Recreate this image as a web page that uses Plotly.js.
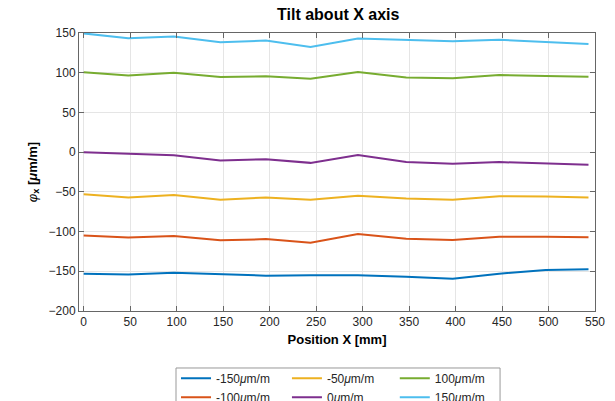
<!DOCTYPE html>
<html>
<head>
<meta charset="utf-8">
<script src="https://cdn.plot.ly/plotly-3.0.1.min.js"></script>
<style>html,body{margin:0;padding:0;background:#fff;}#chart{width:615px;height:401px;}</style>
</head>
<body>
<div id="chart"></div>
<script>
const positionX = [0, 48, 97, 147, 196, 244, 295, 347, 397, 447, 497, 543];
const seriesNames = ['-150<i>μ</i>m/m', '-100<i>μ</i>m/m', '-50<i>μ</i>m/m', '0<i>μ</i>m/m', '100<i>μ</i>m/m', '150<i>μ</i>m/m'];
const tiltM150 = [-153, -154, -152, -154, -155.5, -155, -155, -157, -159.5, -153, -148.5, -147.5];
const tiltM100 = [-105, -107.5, -105.5, -111, -109.5, -114, -103, -109, -110.5, -106.5, -106.5, -107];
const tiltM50 = [-53, -57, -54, -60, -57, -60, -55, -58.5, -60, -55.5, -56, -57];
const tilt0 = [0, -2, -4, -10.5, -9, -13.5, -3.5, -12.5, -14.5, -12.5, -14.5, -16];
const tiltP100 = [100.5, 96.5, 100, 94.5, 95.5, 92.5, 101, 94, 93, 97, 96, 95];
const tiltP150 = [149.5, 143.5, 145.5, 138.5, 140.5, 132.5, 143, 141.5, 139.5, 141.5, 138.5, 136];

const seriesValues = [tiltM150, tiltM100, tiltM50, tilt0, tiltP100, tiltP150];
const colors = ['#0072BD', '#D95319', '#EDB120', '#7E2F8E', '#77AC30', '#4DBEEE'];
const legendIds = ['legend', 'legend', 'legend2', 'legend2', 'legend3', 'legend3'];

const traces = seriesValues.map((vals, i) => ({
  x: positionX,
  y: vals,
  type: 'scatter',
  mode: 'lines',
  name: seriesNames[i],
  legend: legendIds[i],
  line: {color: colors[i], width: 2}
}));

const axisCommon = {
  showline: true,
  linecolor: '#666',
  linewidth: 1,
  mirror: 'ticks',
  ticks: 'inside',
  ticklen: 5,
  tickcolor: '#666',
  showgrid: true,
  gridcolor: '#e5e5e5',
  zeroline: false,
  automargin: false,
  tickfont: {family: 'Liberation Sans, Arial, sans-serif', size: 12, color: '#262626'},
  dtick: 50
};

function legendAt(xp) {
  return {
    orientation: 'v',
    xref: 'paper', yref: 'container',
    x: xp, xanchor: 'left',
    y: 0.093, yanchor: 'top',
    borderwidth: 0,
    bgcolor: 'rgba(0,0,0,0)',
    traceorder: 'normal',
    font: {size: 12, color: '#262626'},
    tracegroupgap: 0
  };
}

const layout = {
  width: 615,
  height: 401,
  margin: {l: 79, r: 20, t: 33, b: 90},
  paper_bgcolor: '#fff',
  plot_bgcolor: '#fff',
  font: {family: 'Liberation Sans, Arial, sans-serif', color: '#262626'},
  title: {
    text: '<b>Tilt about X axis</b>',
    font: {size: 16, color: '#000'},
    x: 0.55, xanchor: 'center',
    y: 0.965, yanchor: 'middle'
  },
  xaxis: Object.assign({}, axisCommon, {
    range: [-5, 550],
    tick0: 0,
    title: {text: '<b>Position X [mm]</b>', font: {size: 13, color: '#000'}, standoff: 6}
  }),
  yaxis: Object.assign({}, axisCommon, {
    range: [-200, 150],
    tick0: 0,
    title: {text: '<i>φ</i><b><sub>x</sub> [<i>μ</i>m/m]</b>', font: {size: 13, color: '#000'}, standoff: 8}
  }),
  showlegend: true,
  legend: legendAt(0.188),
  legend2: legendAt(0.403),
  legend3: legendAt(0.612),
  shapes: [{
    type: 'rect', xref: 'paper', yref: 'paper',
    x0: 0.188, x1: 0.816, y0: -0.205, y1: -0.40,
    line: {color: '#999', width: 1},
    fillcolor: '#fff',
    layer: 'above'
  }]
};

Plotly.newPlot('chart', traces, layout, {displayModeBar: false, staticPlot: true});
</script>
</body>
</html>
